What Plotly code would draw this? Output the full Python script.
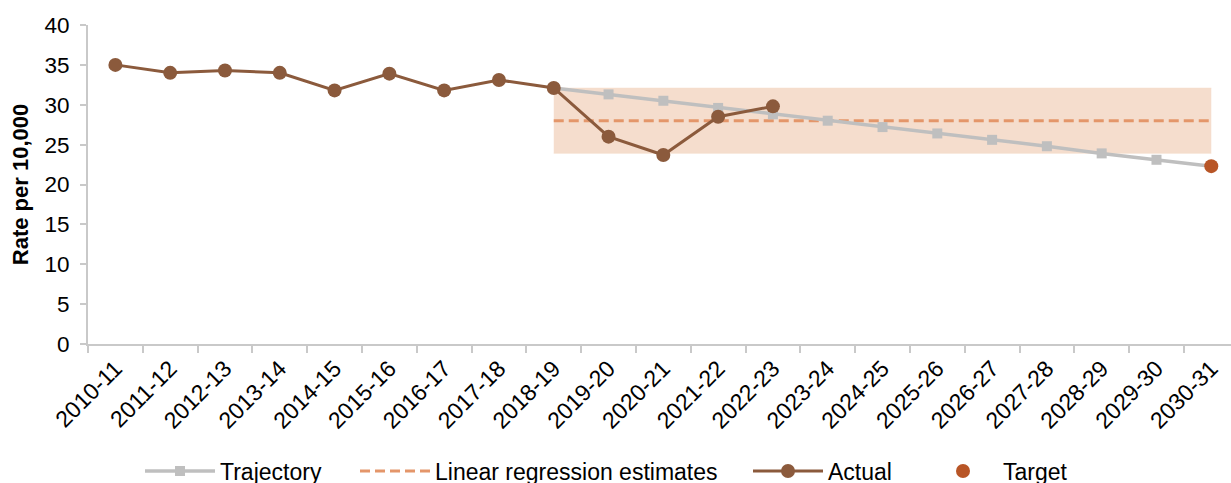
import plotly.graph_objects as go

years = ["2010-11", "2011-12", "2012-13", "2013-14", "2014-15", "2015-16", "2016-17",
         "2017-18", "2018-19", "2019-20", "2020-21", "2021-22", "2022-23", "2023-24",
         "2024-25", "2025-26", "2026-27", "2027-28", "2028-29", "2029-30", "2030-31"]

actual_years = years[:13]
actual = [35.0, 34.0, 34.3, 34.0, 31.8, 33.9, 31.8, 33.1, 32.1, 26.0, 23.7, 28.5, 29.8]

trajectory_years = years[8:]
trajectory = [32.1, 31.3, 30.5, 29.6, 28.8, 28.0, 27.2, 26.4, 25.6, 24.8, 23.9, 23.1, 22.3]

regression_years = years[8:]
regression_estimate = [28.0] * len(regression_years)
band_low = [23.9] * len(regression_years)
band_high = [32.1] * len(regression_years)

target_year = ["2030-31"]
target = [22.3]

FONT = "Liberation Sans, Arial, sans-serif"
GREY = "#BFBFBF"
AXIS = "#C9C9C9"

fig = go.Figure()

# Shaded range of the regression estimates
fig.add_trace(go.Scatter(x=regression_years, y=band_low, mode="lines",
                         line=dict(width=0.6, color="rgba(245,220,203,0.5)"),
                         showlegend=False, hoverinfo="skip"))
fig.add_trace(go.Scatter(x=regression_years, y=band_high, mode="lines",
                         line=dict(width=0.6, color="rgba(245,220,203,0.8)"),
                         fill="tonexty", fillcolor="#F5DDCD",
                         showlegend=False, hoverinfo="skip"))

fig.add_trace(go.Scatter(x=regression_years, y=regression_estimate, mode="lines",
                         name="Linear regression estimates", legend="legend2",
                         line=dict(color="#E4966A", width=3, dash="10px,5px")))

fig.add_trace(go.Scatter(x=trajectory_years, y=trajectory, mode="lines+markers",
                         name="Trajectory", legend="legend",
                         line=dict(color=GREY, width=3.5),
                         marker=dict(symbol="square", size=10, color=GREY)))

fig.add_trace(go.Scatter(x=actual_years, y=actual, mode="lines+markers",
                         name="Actual", legend="legend3",
                         line=dict(color="#8B5A3C", width=3),
                         marker=dict(symbol="circle", size=14, color="#8B5A3C")))

fig.add_trace(go.Scatter(x=target_year, y=target, mode="markers",
                         name="Target", legend="legend4",
                         marker=dict(symbol="circle", size=14, color="#B85526")))


def legend_at(x_px):
    return dict(orientation="h", xref="container", yref="container",
                x=x_px / 1231, xanchor="left", y=12 / 483, yanchor="middle",
                font=dict(size=23, color="#000000"), itemwidth=70,
                bgcolor="rgba(0,0,0,0)")


fig.update_layout(
    width=1231, height=483,
    margin=dict(l=88, r=0, t=25, b=139, autoexpand=False),
    paper_bgcolor="white", plot_bgcolor="white",
    font=dict(family=FONT, size=23, color="#000000"),
    showlegend=True,
    legend=legend_at(140),
    legend2=legend_at(355),
    legend3=legend_at(748),
    legend4=legend_at(923),
)

fig.update_xaxes(
    type="category", categoryorder="array", categoryarray=years,
    range=[-0.5, 20.36], automargin=False,
    showline=True, linecolor=AXIS, linewidth=2,
    ticks="outside", tickson="boundaries", ticklen=7, tickcolor=AXIS, tickwidth=2,
    tickangle=-45, tickfont=dict(size=23), showgrid=False, zeroline=False,
)

fig.update_yaxes(
    range=[0, 40], dtick=5, tick0=0, automargin=False,
    showline=True, linecolor=AXIS, linewidth=2,
    ticks="outside", ticklen=6, tickcolor=AXIS, tickwidth=2,
    ticklabelstandoff=6,
    showgrid=False, zeroline=False, tickfont=dict(size=22.5),
    title=dict(text="<b>Rate per 10,000</b>", font=dict(size=22), standoff=10),
)

fig.write_html("out.html")
